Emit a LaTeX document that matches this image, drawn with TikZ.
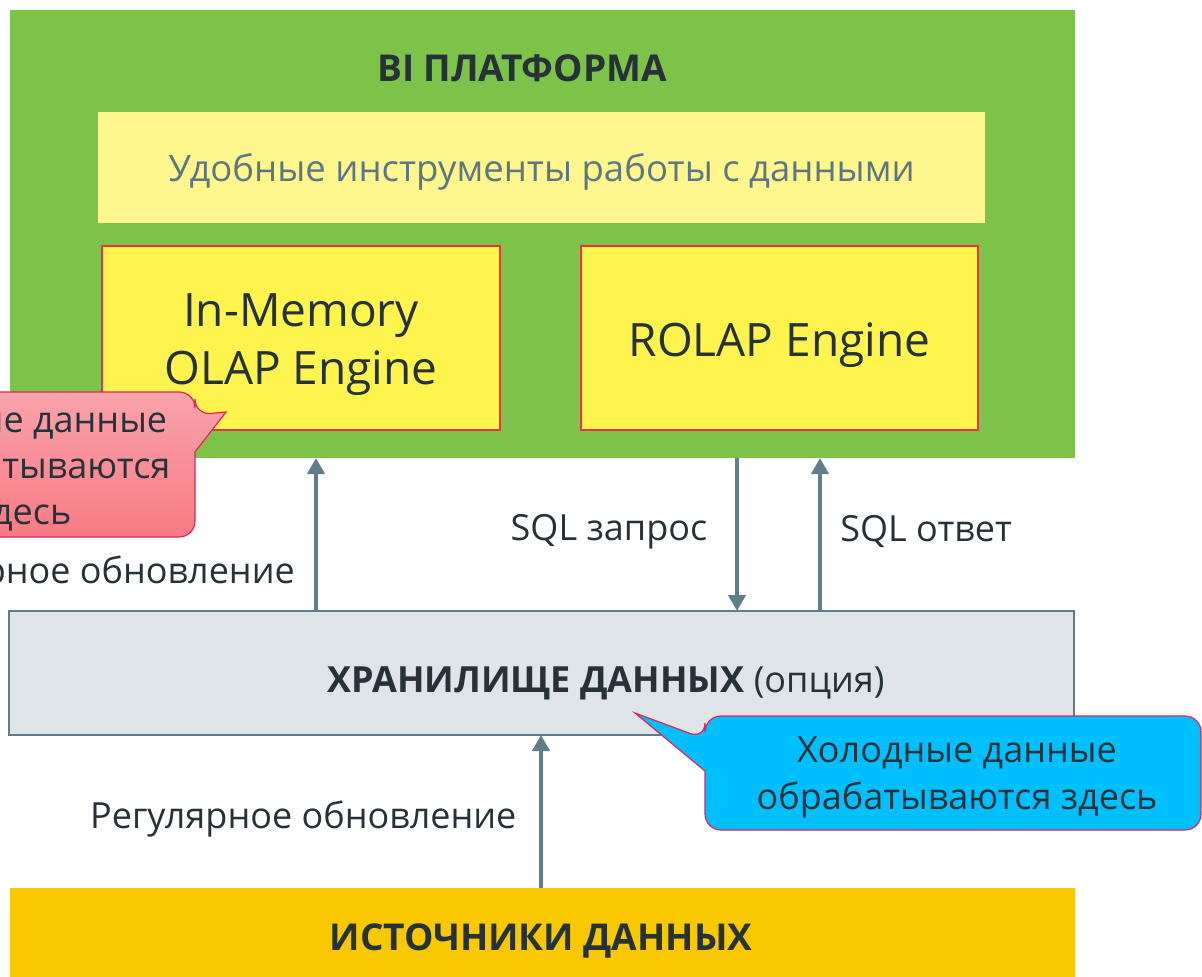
\documentclass[tikz,border=0pt]{standalone}
\usepackage{fontspec}
\setmainfont{Open Sans}
\usetikzlibrary{arrows.meta,calc}
\definecolor{plat}{HTML}{7DC34A}
\definecolor{tools}{HTML}{FFF68D}
\definecolor{eng}{HTML}{FFF34E}
\definecolor{engb}{HTML}{E8334A}
\definecolor{src}{HTML}{F8C900}
\definecolor{stor}{HTML}{DEE4E8}
\definecolor{storb}{HTML}{607D8B}
\definecolor{cold}{HTML}{00BFFF}
\definecolor{callb}{HTML}{E0245A}
\definecolor{hottop}{HTML}{F9A3AA}
\definecolor{hotbot}{HTML}{F77A83}
\definecolor{txt}{HTML}{263238}
\definecolor{txtsoft}{HTML}{5E7584}
\tikzset{
  area/.style={draw=none, anchor=north west, inner sep=0pt, outer sep=0pt},
  engbox/.style={area, fill=eng, draw=engb, line width=1.5pt},
  lbl/.style={text=txt, inner sep=0pt, font=\fontsize{36}{42}\selectfont},
  arr/.style={draw=storb, line width=4.5pt, -{Triangle[length=16pt,width=17pt]}},
  callout/.style={draw=callb, line width=1.2pt, rounded corners=16pt},
}
\begin{document}
\begin{tikzpicture}[x=1pt,y=-1pt]
\useasboundingbox (0,0) rectangle (1202,977);
\clip (0,0) rectangle (1202,977);
% platform
\node[area, fill=plat, minimum width=1065pt, minimum height=448pt] (plat) at (10,10) {};
\node[text=txt, font=\fontsize{37}{42}\selectfont\bfseries, inner sep=0pt] (title) at (522,68) {BI ПЛАТФОРМА};
\node[area, fill=tools, minimum width=887pt, minimum height=111pt] (tools) at (98,112) {};
\node[text=txtsoft, font=\fontsize{36.5}{42}\selectfont, inner sep=0pt] at ([yshift=-4pt]tools.center) {Удобные инструменты работы с данными};
\node[engbox, minimum width=398pt, minimum height=184pt] (mem) at (102,246) {};
\node[text=txt, font=\fontsize{46}{58}\selectfont, align=center, inner sep=0pt] at ([yshift=-7pt]mem.center) {In-Memory\\OLAP Engine};
\node[engbox, minimum width=397pt, minimum height=184pt] (rolap) at (581,246) {};
\node[text=txt, font=\fontsize{46}{58}\selectfont, inner sep=0pt] at ([yshift=-7pt]rolap.center) {ROLAP Engine};
% storage
\node[area, fill=stor, draw=storb, line width=2pt, minimum width=1065pt, minimum height=124pt] (stor) at (9,611) {};
\node[lbl] at (606,683) {\textbf{ХРАНИЛИЩЕ ДАННЫХ} (опция)};
% sources
\node[area, fill=src, minimum width=1065pt, minimum height=100pt] (srcb) at (10,888) {};
\node[lbl, font=\fontsize{37}{42}\selectfont\bfseries] at (541,941) {ИСТОЧНИКИ ДАННЫХ};
% arrows
\draw[arr] (stor.north -| 316,0) -- (plat.south -| 316,0);
\draw[arr] (plat.south -| 737,0) -- (stor.north -| 737,0);
\draw[arr] (stor.north -| 820,0) -- (plat.south -| 820,0);
\draw[arr] (srcb.north -| 541,0) -- (stor.south -| 541,0);
% labels
\node[lbl, anchor=east] at (295,574) {Регулярное обновление};
\node[lbl] at (609,532) {SQL запрос};
\node[lbl] at (926,532) {SQL ответ};
\node[lbl, anchor=west] at (90,819) {Регулярное обновление};
% hot callout
\coordinate (hottip) at (226,412);
\path[callout, top color=hottop, bottom color=hotbot]
  (-150,392) -- (195,392) -- (195,415) [sharp corners] -- (hottip) -- (195,452) [rounded corners=16pt] -- (195,537) -- (-150,537) -- cycle;
\node[text=txt, font=\fontsize{36}{46}\selectfont, align=center, inner sep=0pt] (hot) at (23,469) {Горячие данные\\обрабатываются\\здесь};
% cold callout
\coordinate (coldtip) at (635,713);
\path[callout, fill=cold]
  (705,739) [sharp corners] -- (coldtip) -- (705,771) [rounded corners=16pt] -- (705,830) -- (1201,830) -- (1201,716) -- (705,716) -- cycle;
\node[text=txt, font=\fontsize{36}{47}\selectfont, align=center, inner sep=0pt] (cold) at (957,777) {Холодные данные\\обрабатываются здесь};
\end{tikzpicture}
\end{document}
